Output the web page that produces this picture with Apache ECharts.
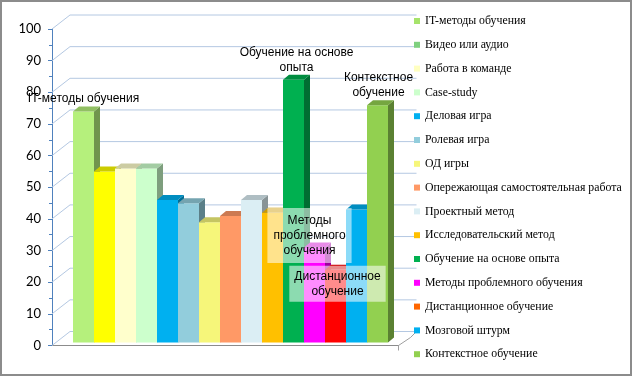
<!DOCTYPE html>
<html>
<head>
<meta charset="utf-8">
<script src="https://cdn.jsdelivr.net/npm/echarts@6/dist/echarts.min.js"></script>
<style>html,body{margin:0;padding:0;background:#fff}#c{width:633px;height:377px}</style>
</head>
<body>
<div id="c"></div>
<script>
const categories = ["IT-методы обучения","Видео или аудио","Работа в команде","Case-study","Деловая игра","Ролевая игра","ОД игры","Опережающая самостоятельная работа","Проектный метод","Исследовательский метод","Обучение на основе опыта","Методы проблемного обучения","Дистанционное обучение","Мозговой штурм","Контекстное обучение"];
const values = [73, 54, 55, 55, 45, 44, 38, 40, 45, 41, 83, 30, 23, 42, 75];
const barColors = ["#b5f07c","#ffff00","#ffffcc","#ccffcc","#00b0f0","#92cddc","#f6f67a","#ff9966","#dbeef4","#ffc000","#00b050","#ff00ff","#ff0000","#00b0f0","#92d050"];
const legendColors = ["#a6e36b","#7fd07f","#ffffc0","#ccffcc","#00b0f0","#92cddc","#f6f67a","#ff9966","#dbeef4","#ffc000","#00b050","#ff00ff","#ff6600","#00b0f0","#92d050"];
const yTicks = [0,10,20,30,40,50,60,70,80,90,100];
const barLabels = {
  0: "IT-методы обучения",
  10: "Обучение на основе\nопыта",
  11: "Методы\nпроблемного\nобучения",
  12: "Дистанционное\nобучение",
  14: "Контекстное\nобучение"
};

// style / layout (not data)
const labelLayout = {
  0: {dx: 0, dy: -13, box: false},
  10: {dx: 3, dy: -20, box: false},
  11: {dx: -5, dy: -12, box: true, pad: [5, 6]},
  12: {dx: 2, dy: 14, box: true, pad: [3, 5]},
  14: {dx: 1, dy: -20, box: false}
};
const SHIFT = 3, DX = 6, DY = 5;
const WALL_DX = 18, WALL_DY = 14;

function shade(hex, f) {
  const n = parseInt(hex.slice(1), 16);
  const r = Math.round(((n >> 16) & 255) * f), g = Math.round(((n >> 8) & 255) * f), b = Math.round((n & 255) * f);
  return 'rgb(' + r + ',' + g + ',' + b + ')';
}

function renderBar(params, api) {
  const si = params.seriesIndex - 1;
  const i = api.value(0), v = api.value(1);
  const top = api.coord([i, v]);
  const base = api.coord([i, 0]);
  const w = api.size([1, 0])[0];
  const x0 = top[0] - w / 2, yt = top[1] - SHIFT, yb = base[1] - SHIFT;
  const c = barColors[si];
  const children = [
    {type: 'polygon', shape: {points: [[x0 + w, yt], [x0 + w + DX, yt - DY], [x0 + w + DX, yb - DY], [x0 + w, yb]]}, style: {fill: shade(c, 0.62)}},
    {type: 'rect', shape: {x: x0, y: yt, width: w, height: yb - yt}, style: {fill: c}},
    {type: 'polygon', shape: {points: [[x0, yt], [x0 + DX, yt - DY], [x0 + w + DX, yt - DY], [x0 + w, yt]]}, style: {fill: shade(c, 0.8)}}
  ];
  return {type: 'group', children: children};
}

const labelIdx = Object.keys(barLabels).map(Number);
function renderLabel(params, api) {
  const si = params.seriesIndex - 16;
  const idx = labelIdx[si];
  const lay = labelLayout[idx];
  const top = api.coord([api.value(0), api.value(1)]);
  const st = {
    text: barLabels[idx], x: top[0] + lay.dx, y: top[1] - SHIFT + lay.dy,
    align: 'center', verticalAlign: 'middle',
    font: '12px "Liberation Sans", Arial, sans-serif', fill: '#000', lineHeight: 15
  };
  if (lay.box) {
    st.backgroundColor = 'rgba(255,255,255,0.55)';
    st.padding = lay.pad;
  }
  return {type: 'text', style: st, z2: 100};
}

function renderWall(params, api) {
  const v = api.value(1);
  const p = api.coord([api.value(0), v]);
  const base = api.coord([15, 0]);
  const rightX = base[0] + WALL_DX;
  const children = [
    {type: 'polyline', shape: {points: [[p[0], p[1]], [p[0] + WALL_DX, p[1] - WALL_DY], [rightX, p[1] - WALL_DY]]}, style: {stroke: '#b4c8e2', lineWidth: 1, fill: null}}
  ];
  if (v === 0) {
    children.push({type: 'polyline', shape: {points: [[base[0], base[1]], [rightX - 6, base[1] - WALL_DY + 6], [rightX, base[1] - WALL_DY]]}, style: {stroke: '#a0a0a0', lineWidth: 1, fill: null}});
    children.push({type: 'line', shape: {x1: base[0], y1: base[1], x2: base[0], y2: base[1] + 5}, style: {stroke: '#a0a0a0', lineWidth: 1}});
  }
  return {type: 'group', children: children};
}

const series = [{
  type: 'custom', name: '_wall', renderItem: renderWall, silent: true, z: 1,
  data: yTicks.map(v => [-1.5, v])
}];
categories.forEach((name, i) => {
  series.push({
    type: 'custom', name: name, renderItem: renderBar, z: 2,
    itemStyle: {color: legendColors[i]},
    data: [[i, values[i]]]
  });
});
labelIdx.forEach((idx) => {
  series.push({
    type: 'custom', name: '_lbl' + idx, renderItem: renderLabel, z: 5, silent: true,
    data: [[idx, values[idx]]]
  });
});

const chart = echarts.init(document.getElementById('c'), null, {renderer: 'canvas'});
chart.setOption({
  animation: false,
  backgroundColor: '#fff',
  grid: {left: 52, right: 234.5, top: 29, bottom: 31.5},
  xAxis: {
    type: 'value', min: -1.5, max: 15,
    axisLine: {show: true, onZero: false, lineStyle: {color: '#8c8c8c'}},
    axisTick: {show: false}, axisLabel: {show: false}, splitLine: {show: false}
  },
  yAxis: {
    type: 'value', min: 0, max: 100, interval: 10,
    axisLine: {show: true, onZero: false, lineStyle: {color: '#4f81bd', width: 1}},
    axisTick: {show: true, length: 4, lineStyle: {color: '#4f81bd'}},
    minorTick: {show: true, splitNumber: 2, length: 3, lineStyle: {color: '#4f81bd'}},
    splitLine: {show: false},
    axisLabel: {margin: 11, color: '#000', fontSize: 13, fontFamily: 'Lato, "Liberation Sans", sans-serif'}
  },
  legend: {
    data: categories, orient: 'vertical', left: 409, top: 9,
    itemWidth: 6, itemHeight: 6, itemGap: 9.8, icon: 'rect',
    textStyle: {fontFamily: '"Liberation Serif", "Times New Roman", serif', fontSize: 11.8, color: '#000', lineHeight: 14}
  },
  graphic: [{
    type: 'rect', shape: {x: 1, y: 1, width: 630, height: 374},
    style: {fill: null, stroke: '#8c8c8c', lineWidth: 2}, silent: true
  }],
  series: series
});
</script>
</body>
</html>
